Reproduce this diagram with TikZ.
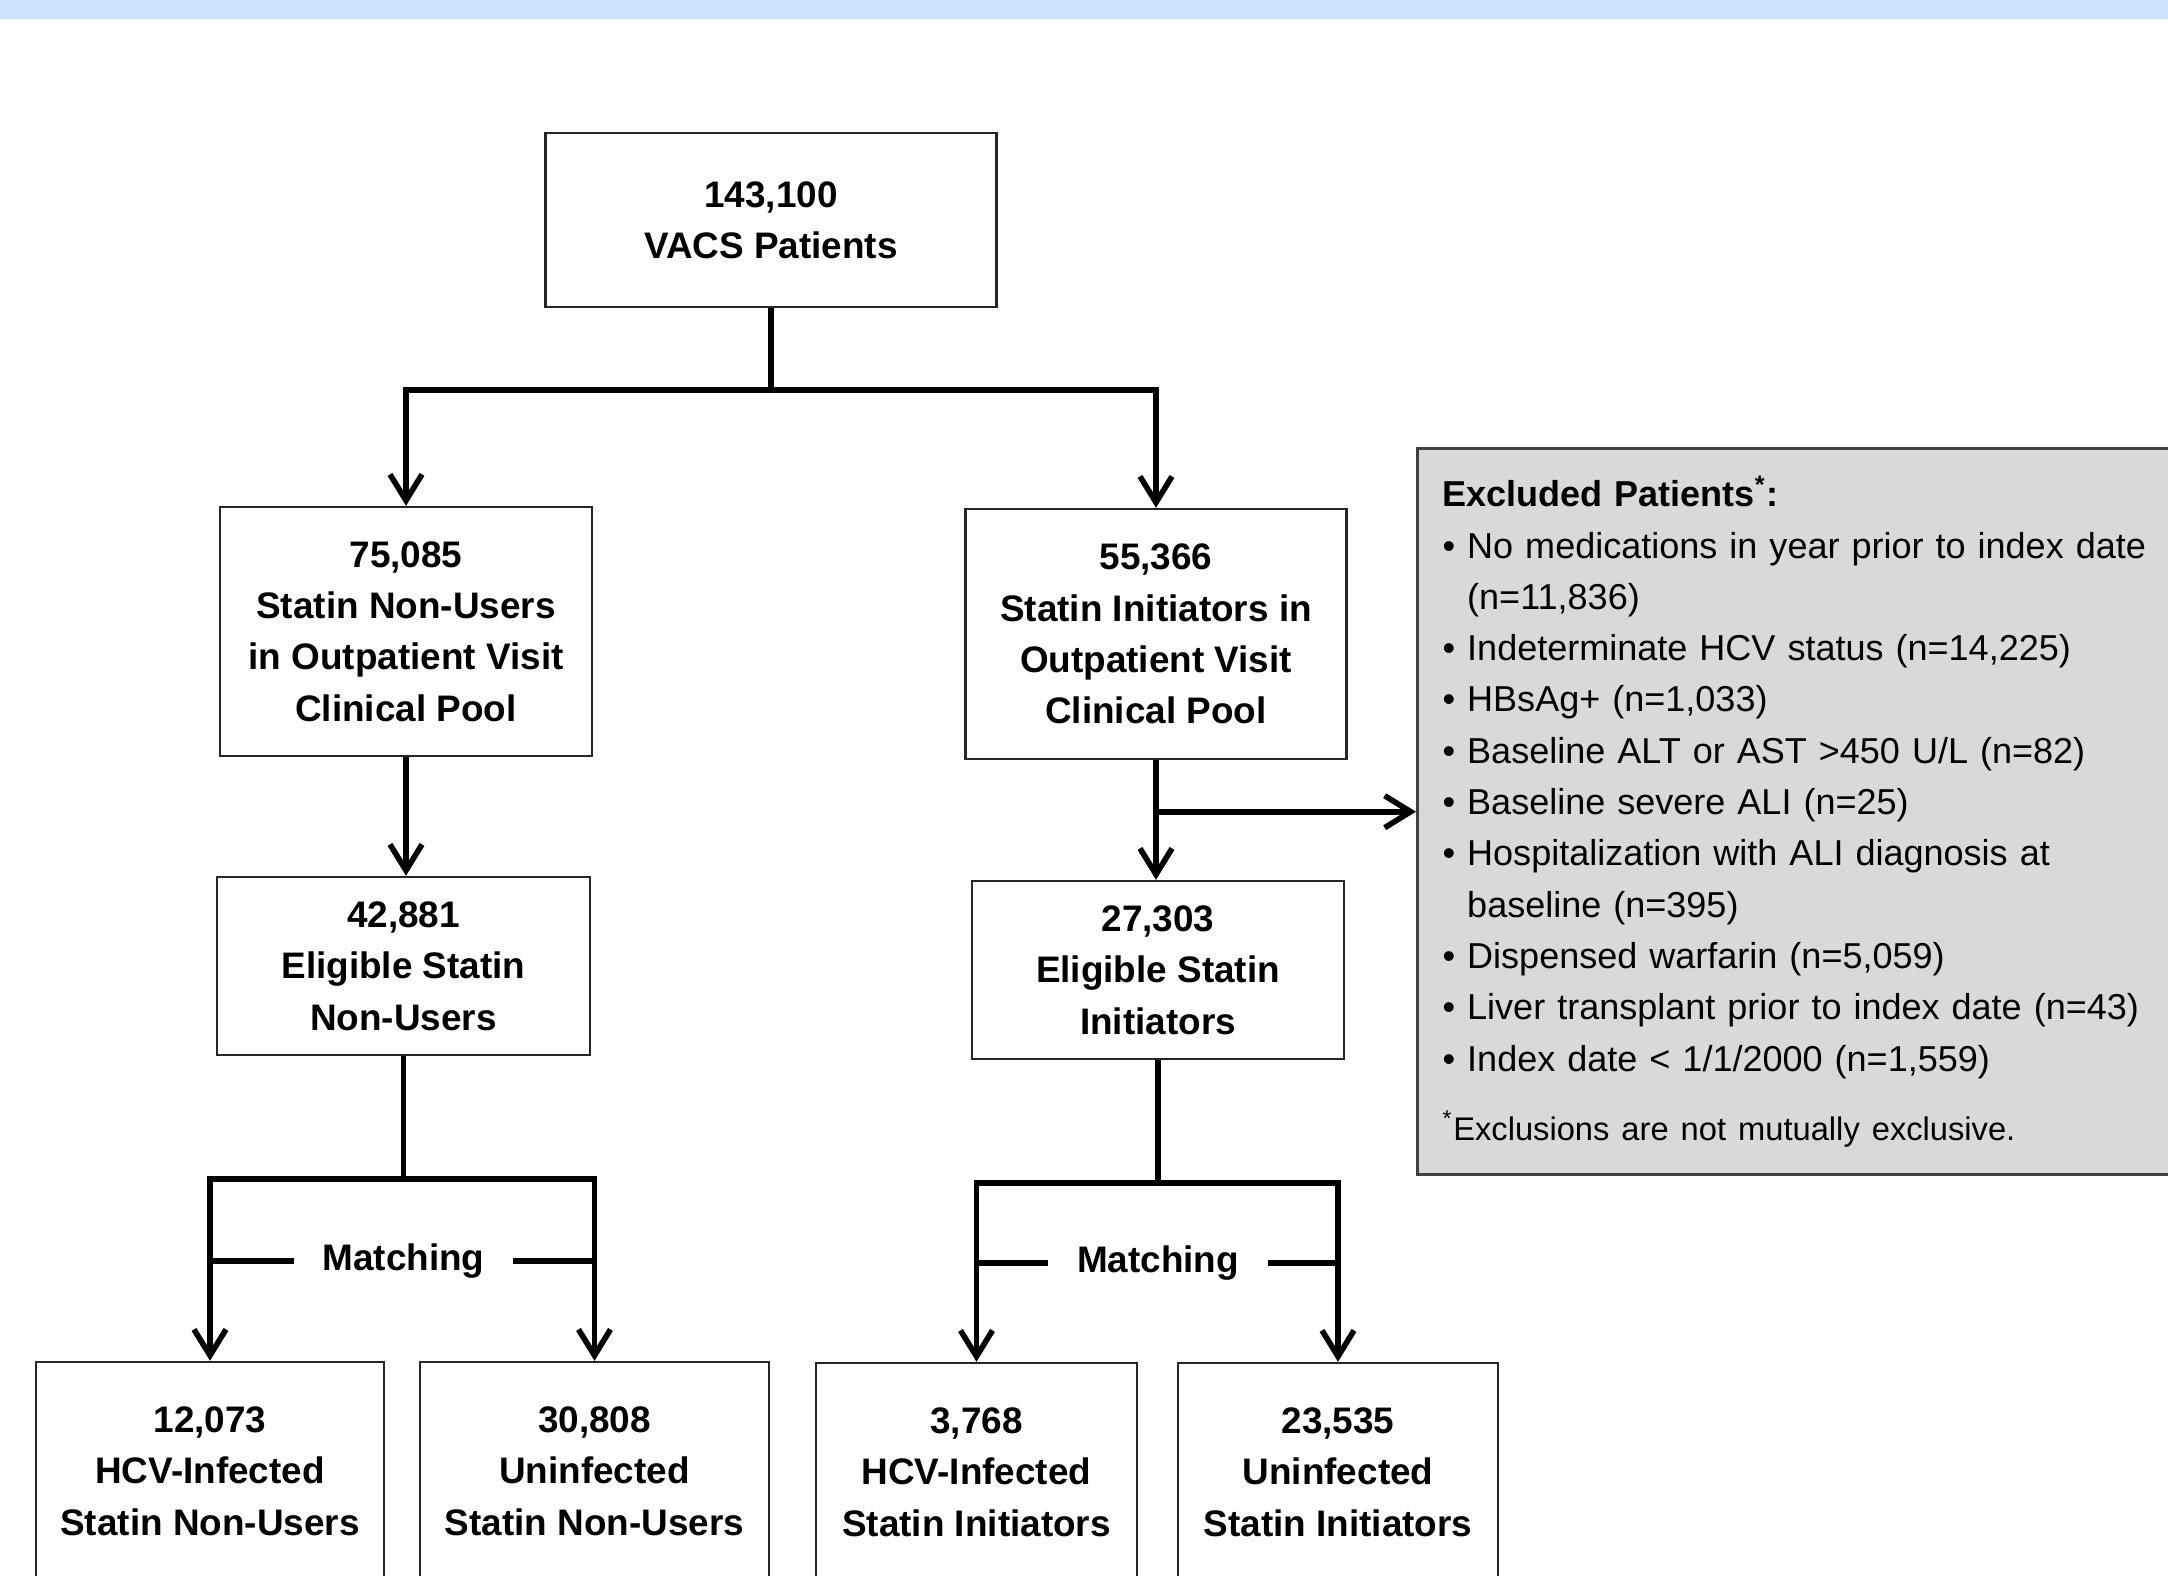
\documentclass[tikz,border=0pt]{standalone}
\usepackage{fontspec}
\setmainfont{Liberation Sans}
\usetikzlibrary{positioning}
\usetikzlibrary{calc}
\usetikzlibrary{arrows.meta}
\definecolor{bandblue}{RGB}{207,228,255}
\definecolor{exclgray}{RGB}{217,217,217}
\definecolor{edgegray}{RGB}{64,64,64}

\begin{document}
\begin{tikzpicture}[
    box/.style={draw=black!85, line width=0.7pt, fill=white, align=center, inner sep=0pt,
        font=\fontsize{10.5}{14.6}\selectfont\bfseries},
    conn/.style={line width=1.6pt},
    arr/.style={conn, -{Straight Barb[length=2.6mm, width=3.2mm]}},
    matchlbl/.style={font=\fontsize{10.5}{14.6}\selectfont\bfseries, inner xsep=0.28cm, inner ysep=0pt},
    exclbox/.style={draw=edgegray, line width=0.9pt, fill=exclgray, align=left, text width=7.6cm,
        inner xsep=0.25cm, inner ysep=0.28cm, anchor=north west, font=\fontsize{10.25}{14.6}\selectfont}
]
    \useasboundingbox (0,0) rectangle (21.68,-15.75);
    \clip (0,0) rectangle (21.68,-15.75);
    \fill[bandblue] (0,0) rectangle (21.68,-0.19);

    \node[box, minimum width=4.51cm, minimum height=1.74cm] (vacs) at (7.71,-2.20) {143,100\\VACS Patients};
    \node[box, minimum width=3.72cm, minimum height=2.49cm] (nonusers) at (4.06,-6.315) {75,085\\Statin Non-Users\\in Outpatient Visit\\Clinical Pool};
    \node[box, minimum width=3.81cm, minimum height=2.50cm] (initiators) at (11.56,-6.34) {55,366\\Statin Initiators in\\Outpatient Visit\\Clinical Pool};
    \node[box, minimum width=3.73cm, minimum height=1.78cm] (eligNU) at (4.035,-9.66) {42,881\\Eligible Statin\\Non-Users};
    \node[box, minimum width=3.72cm, minimum height=1.78cm] (eligIN) at (11.58,-9.70) {27,303\\Eligible Statin\\Initiators};

    \node[box, minimum width=3.48cm, minimum height=2.18cm] (hcvNU) at (2.10,-14.71) {12,073\\HCV-Infected\\Statin Non-Users};
    \node[box, minimum width=3.49cm, minimum height=2.18cm] (uninfNU) at (5.945,-14.71) {30,808\\Uninfected\\Statin Non-Users};
    \node[box, minimum width=3.21cm, minimum height=2.18cm] (hcvIN) at (9.765,-14.72) {3,768\\HCV-Infected\\Statin Initiators};
    \node[box, minimum width=3.20cm, minimum height=2.18cm] (uninfIN) at (13.38,-14.72) {23,535\\Uninfected\\Statin Initiators};

    \node[exclbox] (excluded) at (14.16,-4.47) {\textbf{Excluded Patients\textsuperscript{*}:}\\
        \textbullet\ No medications in year prior to index date\\
        \phantom{\textbullet\ }(n=11,836)\\
        \textbullet\ Indeterminate HCV status (n=14,225)\\
        \textbullet\ HBsAg+ (n=1,033)\\
        \textbullet\ Baseline ALT or AST >450 U/L (n=82)\\
        \textbullet\ Baseline severe ALI (n=25)\\
        \textbullet\ Hospitalization with ALI diagnosis at\\
        \phantom{\textbullet\ }baseline (n=395)\\
        \textbullet\ Dispensed warfarin (n=5,059)\\
        \textbullet\ Liver transplant prior to index date (n=43)\\
        \textbullet\ Index date < 1/1/2000 (n=1,559)\\[5pt]
        {\fontsize{9.3}{11}\selectfont\textsuperscript{*}Exclusions are not mutually exclusive.}};

    \draw[conn] (vacs.south) -- ++(0,-0.82) coordinate (split);
    \draw[arr] (split) -| (nonusers.north);
    \draw[arr] (split) -| (initiators.north);
    \draw[arr] (nonusers.south) -- (nonusers.south |- eligNU.north);
    \draw[arr] (initiators.south) -- (initiators.south |- eligIN.north);
    \draw[arr] (initiators.south |- excluded.west) -- (excluded.west);

    \draw[conn] (eligNU.south) -- ++(0,-1.23) coordinate (splitNU);
    \draw[arr] (splitNU) -| (hcvNU.north);
    \draw[arr] (splitNU) -| (uninfNU.north);
    \node[matchlbl] (matchNU) at ($(splitNU)+(0,-0.82)$) {Matching};
    \draw[conn] (matchNU.west) -- (matchNU.west -| hcvNU.north);
    \draw[conn] (matchNU.east) -- (matchNU.east -| uninfNU.north);

    \draw[conn] (eligIN.south) -- ++(0,-1.23) coordinate (splitIN);
    \draw[arr] (splitIN) -| (hcvIN.north);
    \draw[arr] (splitIN) -| (uninfIN.north);
    \node[matchlbl] (matchIN) at ($(splitIN)+(0,-0.80)$) {Matching};
    \draw[conn] (matchIN.west) -- (matchIN.west -| hcvIN.north);
    \draw[conn] (matchIN.east) -- (matchIN.east -| uninfIN.north);
\end{tikzpicture}
\end{document}
